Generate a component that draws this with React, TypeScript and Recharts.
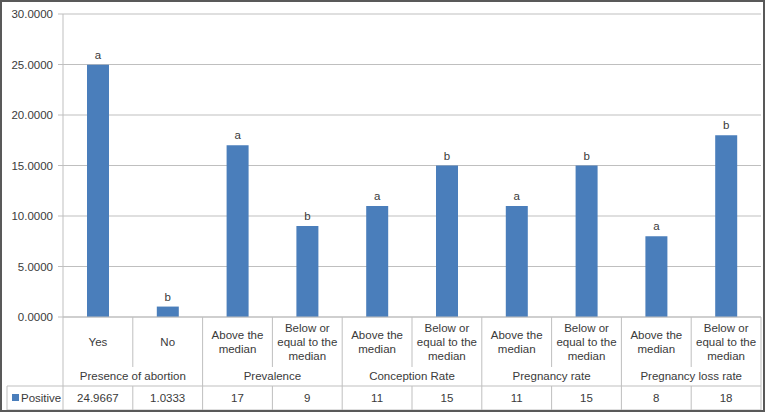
import { Bar, BarChart, CartesianGrid, LabelList, XAxis, YAxis } from "recharts"

const groups = [
  "Presence of abortion",
  "Prevalence",
  "Conception Rate",
  "Pregnancy rate",
  "Pregnancy loss rate",
]

const subLabels = [
  ["Yes"],
  ["No"],
  ["Above the", "median"],
  ["Below or", "equal to the", "median"],
  ["Above the", "median"],
  ["Below or", "equal to the", "median"],
  ["Above the", "median"],
  ["Below or", "equal to the", "median"],
  ["Above the", "median"],
  ["Below or", "equal to the", "median"],
]

const positive = [24.9667, 1.0333, 17, 9, 11, 15, 11, 15, 8, 18]
const letters = ["a", "b", "a", "b", "a", "b", "a", "b", "a", "b"]
const yTicks = [0, 5, 10, 15, 20, 25, 30]

const chartData = positive.map((value, i) => ({
  key: `c${i}`,
  value,
  letter: letters[i],
}))

const W = 767
const H = 412
const MARGIN = { top: 14, right: 6, left: 3, bottom: 2 }
const Y_AXIS_W = 60
const X_AXIS_H = 93
const AXIS_TOP = H - MARGIN.bottom - X_AXIS_H
const ROW_TOP = 386
const ROW_BOTTOM = 410
const CELL_LEFT = 7
const LINE = "#bfbfbf"
const TEXT = "#3a3a3a"
const FONT = "'Liberation Sans', Arial, sans-serif"
const FS = 11.5
const BLUE = "#4a7ebb"

const CategoryTick = (props: any) => {
  const { x, payload } = props
  const index: number = payload.index ?? props.index
  const plotW = W - MARGIN.left - Y_AXIS_W - MARGIN.right
  const half: number = payload.offset || plotW / positive.length / 2
  const lines = subLabels[index] || []
  const lh = 14
  const firstY = 341.5 - ((lines.length - 1) * lh) / 2
  const right = x + half
  const groupEdge = index % 2 === 1
  return (
    <g fontFamily={FONT} fontSize={FS} fill={TEXT}>
      {lines.map((t, k) => (
        <text
          key={k}
          x={x}
          y={firstY + k * lh}
          textAnchor="middle"
          dominantBaseline="central"
        >
          {t}
        </text>
      ))}
      {groupEdge && (
        <text x={x - half} y={376} textAnchor="middle" dominantBaseline="central">
          {groups[(index - 1) / 2]}
        </text>
      )}
      <text x={x} y={397.5} textAnchor="middle" dominantBaseline="central">
        {String(positive[index])}
      </text>
      <line
        x1={right}
        x2={right}
        y1={AXIS_TOP}
        y2={groupEdge ? ROW_BOTTOM : 367}
        stroke={LINE}
      />
      {!groupEdge && (
        <line x1={right} x2={right} y1={ROW_TOP} y2={ROW_BOTTOM} stroke={LINE} />
      )}
      {index === 0 && (
        <g>
          <line x1={x - half} x2={x - half} y1={AXIS_TOP} y2={ROW_BOTTOM} stroke={LINE} />
          <line x1={CELL_LEFT} x2={CELL_LEFT} y1={ROW_TOP} y2={ROW_BOTTOM} stroke={LINE} />
          <line x1={CELL_LEFT} x2={x - half + plotW} y1={ROW_TOP} y2={ROW_TOP} stroke={LINE} />
          <line x1={CELL_LEFT} x2={x - half + plotW} y1={ROW_BOTTOM} y2={ROW_BOTTOM} stroke={LINE} />
          <rect x={12} y={394} width={7} height={7} fill={BLUE} />
          <text x={21} y={397.5} dominantBaseline="central">
            Positive
          </text>
        </g>
      )}
    </g>
  )
}

export default function App() {
  return (
    <div style={{ position: "absolute", left: 0, top: 0, width: W, height: H, background: "#fff" }}>
      <BarChart width={W} height={H} data={chartData} margin={MARGIN}>
        <CartesianGrid vertical={false} stroke={LINE} />
        <YAxis
          width={Y_AXIS_W}
          domain={[0, 30]}
          ticks={yTicks}
          interval={0}
          tickFormatter={(v: number) => v.toFixed(4)}
          tick={{ fill: TEXT, fontSize: FS, fontFamily: FONT }}
          tickSize={5}
          tickMargin={5}
          stroke={LINE}
        />
        <XAxis
          dataKey="key"
          height={X_AXIS_H}
          interval={0}
          tickLine={false}
          stroke={LINE}
          tick={(p: any) => <CategoryTick {...p} />}
        />
        <Bar dataKey="value" fill={BLUE} barSize={22} isAnimationActive={false}>
          <LabelList
            dataKey="letter"
            position="top"
            offset={6}
            fill={TEXT}
            fontSize={FS}
            fontFamily={FONT}
          />
        </Bar>
      </BarChart>
      <div
        style={{
          position: "absolute",
          left: 0,
          top: 0,
          width: 765,
          height: 412,
          boxSizing: "border-box",
          border: "2px solid #595959",
          pointerEvents: "none",
        }}
      />
    </div>
  )
}
